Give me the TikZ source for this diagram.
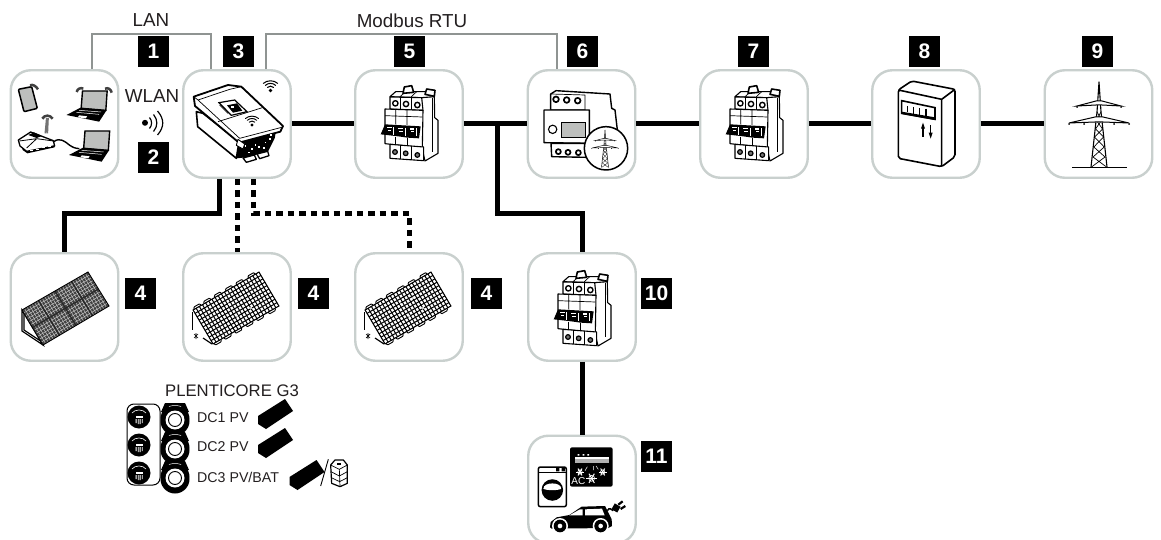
\documentclass[tikz,border=0pt]{standalone}
\usepackage{fontspec}
\setmainfont{Liberation Sans}
\definecolor{boxgray}{HTML}{C9D0CE}
\definecolor{lan}{HTML}{8F9492}
\definecolor{ink}{HTML}{231F20}
\definecolor{scr}{HTML}{BDBFBD}
\tikzset{
  devbox/.style={draw=boxgray,line width=2.4pt,rounded corners=20pt,fill=white,minimum width=107.5pt,minimum height=107.5pt,inner sep=0pt,outer sep=1.2pt},
  badge/.style={fill=black,text=white,font=\fontsize{21}{21}\selectfont\bfseries,minimum size=31pt,inner sep=0pt},
  lbl/.style={text=ink,inner sep=0pt,font=\fontsize{18.8}{18.8}\selectfont},
  dclbl/.style={text=ink,inner sep=0pt,anchor=west,font=\fontsize{14.2}{14.2}\selectfont},
  power/.style={draw=black,line width=5pt},
  powerd/.style={draw=black,line width=5pt,dash pattern=on 6.5pt off 5pt},
  data/.style={draw=lan,line width=2pt},
  zz/.style={x=.33333pt,y=-.33333pt},
  ic/.style={draw=black,line width=1.1pt,line join=round,fill=white},
  thin/.style={draw=black,line width=.7pt,line join=round},
}
\newcommand\wifisym[2]{\begin{scope}[shift={(#1)},scale=#2]
  \fill (0,0) circle[radius=2.6];
  \draw[line width=#2*1.5pt,line cap=round] (-4.5,-4.5) .. controls (-2,-7) and (2,-7) .. (4.5,-4.5);
  \draw[line width=#2*1.5pt,line cap=round] (-7.5,-7.5) .. controls (-3.5,-11.5) and (3.5,-11.5) .. (7.5,-7.5);
  \draw[line width=#2*1.5pt,line cap=round] (-10.5,-10.5) .. controls (-5,-15.5) and (5,-15.5) .. (10.5,-10.5);
\end{scope}}
\newcommand\breakericon[1]{\begin{scope}[shift={(#1)},zz]
  \draw[ic] (140,65)--(178,65)--(179,128)--(189,136)--(189,235)--(150,258)--(140,215)--cycle;
  \draw[thin] (172,70)--(172,230);
  \draw[ic] (45,65)--(62,50)--(165,50)--(178,65)--(140,68)--cycle;
  \draw[thin] (75,65)--(92,50) (108,66)--(125,50);
  \draw[ic,line width=1.6pt] (84,55)--(88,36)--(110,32)--(116,52)--cycle;
  \draw[ic,line width=1.6pt] (150,58)--(155,42)--(180,46)--(178,64)--cycle;
  \draw[ic] (45,66)--(140,68)--(144,106)--(45,102)--cycle;
  \draw[thin] (76,67)--(76,103) (110,67)--(110,104);
  \foreach \p in {(61,85),(93,87),(127,90)}{\draw[ic,line width=1.4pt] \p circle[radius=8];}
  \draw[ic] (30,102)--(144,106)--(142,218)--(30,206)--cycle;
  \draw[thin] (30,122)--(142,126) (62,103)--(62,148) (96,104)--(96,150);
  \draw[thin] (62,185)--(62,208) (96,188)--(96,212);
  \fill[black] (17,178)--(30,148)--(137,154)--(132,190)--(98,188)--(62,183)--cycle;
  \foreach \x/\y in {36/155,70/158,104/160}{
    \fill[white] (\x,\y) rectangle ++(14,5);
    \fill[white] (\x+3,\y+9) rectangle ++(10,3);
    \fill[white] (\x+19,\y) rectangle ++(2,24);}
  \draw[ic] (45,208)--(146,216)--(146,257)--(45,250)--cycle;
  \draw[thin] (76,211)--(76,252) (110,213)--(110,254);
  \foreach \p in {(60,231),(92,235),(127,240)}{\draw[ic,line width=1.2pt,fill=black!55] \p circle[radius=7];}
\end{scope}}
\newcommand\pylon[2]{\begin{scope}[shift={(#1)},scale=#2]
  \draw[line width=#2*1.1pt,line join=round] (-8,85)--(-2,30)--(0,0)--(2,30)--(8,85);
  \draw[line width=#2*.7pt] (-2,30)--(2.8,38)--(-3.5,47)--(4.5,55)--(-5.2,65)--(6,75)--(-7.5,85) (2,30)--(-2.8,38)--(3.5,47)--(-4.5,55)--(5.2,65)--(-6,75)--(7.5,85);
  \draw[line width=#2*1pt,fill=white] (-22,24)--(-3,19)--(3,19)--(22,24)--(3,23)--(-3,23)--cycle;
  \draw[line width=#2*1pt,fill=white] (-30,41)--(-4,35)--(4,35)--(30,41)--(4,40)--(-4,40)--cycle;
  \foreach \x/\y in {-22/25,22/25,-30/42,30/42,-15/42,15/42}{\fill (\x,\y) circle[radius=1];}
\end{scope}}
\newcommand\panelopen[1]{\begin{scope}[shift={(#1)}]
  \begin{scope}
    \clip (0,0)--(66,-38)--(86,-4)--(20,34)--cycle;
    \foreach \i in {0,...,21}{\draw[line width=1pt] ($(0,0)!\i/21!(66,-38)$)--($(20,34)!\i/21!(86,-4)$);}
    \foreach \i in {0,...,10}{\draw[line width=1pt] ($(0,0)!\i/10!(20,34)$)--($(66,-38)!\i/10!(86,-4)$);}
    \fill[white] (36,-6) circle[radius=1.1] (48,-12) circle[radius=1.1] (44,6) circle[radius=1.1] (58,-2) circle[radius=1.1];
  \end{scope}
  \draw[line width=.9pt] (0,0)--(66,-38)--(86,-4)--(20,34)--cycle;
  \foreach \t in {.02,.17,.33,.5,.66,.84}{
    \draw[line width=.9pt,rounded corners=1pt] ($(0,0)!\t!(66,-38)$)--++(-.8,-2)--++(6.5,-3.7)--++(.8,2);
    \draw[line width=.9pt,rounded corners=1pt] ($(20,34)!\t!(86,-4)$)--++(.8,2)--++(6.5,-3.7)--++(-.8,-2);}
  \draw[line width=.9pt] (-1,2)--(-1,20);
  \draw[line width=.7pt] (1,28)--(5,24) (1,24)--(5,28) (3,23)--(3,29);
  \draw[line width=1.2pt] (10,28)--(19,34);
\end{scope}}
\newcommand\panelmini[1]{\begin{scope}[shift={(#1)}]
  \fill[black] (0,-2)--(27,-19)--(35,-7)--(8,11)--(0,6)--cycle;
\end{scope}}
\newcommand\dcleft[1]{\begin{scope}[shift={(#1)}]
  \fill (0,0) circle[radius=11.5];
  \draw[white,line width=.6pt] (-7,-4) .. controls (-4,-8) and (4,-8) .. (7,-4);
  \fill[white] (-3.5,-1) rectangle (3.5,.6);
  \fill[white] (-1.2,2) rectangle (-.3,7) (.6,2) rectangle (1.5,7) (-3.4,2) rectangle (-2.5,6) (2.8,2) rectangle (3.7,6);
\end{scope}}
\newcommand\dcright[1]{\begin{scope}[shift={(#1)}]
  \fill (0,-1) circle[radius=14.5] (0,1) circle[radius=14.5];
  \fill (-10,-17)--(10,-17)--(14,-8)--(-14,-8)--cycle;
  \fill[white] (0,0) circle[radius=9.5];
  \draw[line width=.9pt] (0,0) circle[radius=6.5];
  \draw[white,line width=.5pt] (-6,-13.5) .. controls (-3,-14.8) and (3,-14.8) .. (6,-13.5);
\end{scope}}
\newcommand\laptop[1]{\begin{scope}[shift={(#1)},zz]
  \draw[black,line width=1.4pt,fill=scr] (48,0)--(122,0)--(118,58)--(44,52)--cycle;
  \fill[black] (0,72)--(42,50)--(120,58)--(98,92)--cycle;
  \draw[white,line width=.5pt] (38,58)--(104,63) (30,64)--(98,70);
  \fill[white] (38,73)--(62,76)--(58,82)--(34,79)--cycle;
\end{scope}}
\usetikzlibrary{calc}
\begin{document}
\begin{tikzpicture}[x=1pt,y=-1pt,line cap=butt]
\useasboundingbox (0,0) rectangle (1161,540);
\fill[white] (0,0) rectangle (1161,540);
\node[devbox] (n1) at (64.5,124) {};
\node[devbox] (n3) at (237,124) {};
\node[devbox] (n5) at (409,124) {};
\node[devbox] (n6) at (581.5,124) {};
\node[devbox] (n7) at (754,124) {};
\node[devbox] (n8) at (926,124) {};
\node[devbox] (n9) at (1098.5,124) {};
\node[devbox] (p1) at (64.5,307) {};
\node[devbox] (p2) at (237,307) {};
\node[devbox] (p3) at (409,307) {};
\node[devbox] (n10) at (582,307) {};
\node[devbox] (n11) at (582,489.5) {};
\coordinate (j) at (497,124);
\draw[power] (n3)--(n5);
\draw[power] (n5)--(n6);
\draw[power] (n6)--(n7);
\draw[power] (n7)--(n8);
\draw[power] (n8)--(n9);
\draw[power] (j)--++(0,89)-|(n10.north);
\draw[power] (n10)--(n11);
\draw[power] ([xshift=-18pt]n3.south)--++(0,34.5)-|(p1.north);
\draw[powerd] (n3.south)--(p2.north);
\draw[powerd] ([xshift=16pt]n3.south)--++(0,34.5)-|(p3.north);
\draw[data] ([xshift=27.5pt]n1.north)--++(0,-35.5)-|([xshift=-26pt]n3.north);
\draw[data] ([xshift=29pt]n3.north)--++(0,-35.5)-|([xshift=-24.5pt]n6.north);
\node[lbl] (tlan) at (151,20.5) {LAN};
\node[lbl] (tmod) at (412,20.5) {Modbus RTU};
\node[lbl] (twlan) at (152,96) {WLAN};
\node[badge] (b1) at (153.5,51.5) {1};
\node[badge] (b2) at (153.5,157.5) {2};
\node[badge] (b3) at (238.5,51.5) {3};
\node[badge] (b5) at (409.5,51.5) {5};
\node[badge] (b6) at (582.5,51.5) {6};
\node[badge] (b7) at (753.5,51.5) {7};
\node[badge] (b8) at (924.5,51.5) {8};
\node[badge] (b9) at (1097.5,51.5) {9};
\node[badge] (b4a) at (140.5,293.5) {4};
\node[badge] (b4b) at (313.5,293.5) {4};
\node[badge] (b4c) at (486.5,293.5) {4};
\node[badge] (b10) at (656.5,293.5) {10};
\node[badge] (b11) at (656.5,456.5) {11};
\fill (145,122.8) circle[radius=3];
\draw[line width=1.2pt] (149.5,117.5) .. controls (152.3,121) and (152.3,125) .. (149.5,128.5);
\draw[line width=1.2pt] (153.5,114.5) .. controls (158,120) and (158,126) .. (153.5,131.5);
\draw[line width=1.2pt] (157.5,111) .. controls (164.5,119) and (164.5,127) .. (157.5,135);
\begin{scope}[shift={(10,70)},zz]
  \draw[black,line width=1.5pt,fill=scr,rounded corners=1pt] (25,58)--(65,50)--(82,115)--(42,125)--cycle;
  \draw[black!75,line width=2.5pt] (60,46) .. controls (68,42) and (78,48) .. (84,58);
  \draw[black!75,line width=2.5pt] (200,66) .. controls (202,56) and (212,52) .. (220,56);
  \draw[black!75,line width=2.5pt] (285,56) .. controls (295,52) and (303,58) .. (305,68);
  \draw[black!75,line width=2.5pt] (97,146) .. controls (104,134) and (120,134) .. (128,146);
  \draw[black!55,line width=1.6pt,fill=white] (106,190)--(110,147)--(114,147)--(112,190);
\end{scope}
\laptop{66.5,91}
\laptop{69,131}
\begin{scope}[shift={(10,70)},zz]
  \draw[black,line width=1.4pt] (130,216) .. controls (150,200) and (165,215) .. (178,225) .. controls (188,232) and (195,235) .. (208,236);
  \draw[ic,line width=1.3pt] (25,210)--(62,186)--(130,212)--(134,228)--(50,244)--(30,228)--cycle;
  \fill (55,195)--(72,187)--(96,198)--(80,204)--cycle;
  \draw[black,line width=.8pt] (28,213)--(80,206)--(130,213) (80,206)--(50,234);
  \fill (36,234)--(50,244)--(134,226)--(134,232)--(52,250)--(38,240)--cycle;
  \foreach \x/\y in {60/240,78/236,96/232,114/228}{\fill[white] (\x,\y) rectangle ++(8,3.5);}
\end{scope}
\begin{scope}[shift={(183,70)},zz]
  \fill (165,212)--(280,178)--(275,205)--(255,245)--(190,262)--(160,265)--cycle;
  \draw[ic,line width=1.6pt] (40,125)--(44,170)--(160,265)--(168,215)--(60,130)--cycle;
  \draw[ic,line width=1.8pt] (32,80)--(135,45)--(175,50)--(300,168)--(292,185)--(168,218)--(36,108)--cycle;
  \draw[thin] (32,80)--(45,90)--(140,58)--(175,50) (45,90)--(170,205)--(296,172);
  \draw[thin] (105,155)--(238,113) (135,130)--(110,105);
  \draw[black,line width=1.2pt,fill=white] (108,98)--(155,90)--(192,125)--(145,136)--cycle;
  \fill (132,106)--(162,100)--(178,122)--(150,128)--cycle;
  \fill[white] (143,108) rectangle ++(10,6);
  \draw[ic,line width=1.3pt] (180,264)--(214,255)--(220,268)--(190,277)--cycle;
  \draw[ic,line width=1.3pt] (222,252)--(254,244)--(258,257)--(230,266)--cycle;
  \foreach \x/\y in {185/225,205/235,225/228,245/215,258/205,195/245,215/222,240/232,262/192}{\fill[white] (\x,\y) rectangle ++(5,5);}
  \draw[ic,line width=.9pt] (165,208)--(185,222)--(180,237)--(160,226)--cycle;
\end{scope}
\wifisym{252,125}{.62}
\wifisym{270.5,90.5}{.68}
\breakericon{375,75}
\breakericon{720,75}
\breakericon{548,260}
\begin{scope}[shift={(540,80)},zz]
  \draw[ic,line width=1.4pt] (32,42)--(48,32)--(210,42)--(215,85)--(225,90)--(232,150)--(148,190)--(135,90)--(32,90)--cycle;
  \draw[thin] (135,45)--(135,90) (32,42)--(135,45);
  \foreach \p in {(48,58),(80,60),(113,62)}{\draw[ic,line width=1.7pt] \p circle[radius=8.5];}
  \draw[ic,line width=1.4pt] (12,90)--(148,90)--(148,190)--(12,188)--cycle;
  \draw[black,line width=1.1pt,fill=scr] (65,128) rectangle (136,172);
  \draw[ic,line width=1.1pt] (38,148) circle[radius=12.5];
  \draw[ic,line width=1.4pt] (33,190)--(140,190)--(140,232)--(35,230)--cycle;
  \foreach \p in {(55,215),(84,217),(115,218)}{\draw[ic,line width=1.7pt] \p circle[radius=7.5];}
  \draw[ic,line width=1.5pt] (198,205) circle[radius=65];
\end{scope}
\pylon{605,130}{.44}
\begin{scope}[shift={(680,30)},zz]
  \draw[ic,line width=1.6pt,rounded corners=2pt] (655,180)--(695,153)--(825,178)--(825,380)--(785,410)--(655,385)--cycle;
  \draw[black,line width=1.6pt] (655,180)--(785,208)--(825,178) (785,208)--(785,410);
  \draw[black,line width=1.6pt,fill=white] (665,212)--(765,233)--(765,268)--(665,250)--cycle;
  \fill (665,245)--(765,262)--(765,270)--(665,252)--cycle;
  \draw[black,line width=1.2pt] (683,228)--(683,247) (701,231)--(701,251) (719,234)--(719,255) (738,236)--(738,258);
  \draw[black,line width=1.2pt] (729,320)--(729,290);
  \fill (729,278)--(723,296)--(735,296)--cycle;
  \draw[black,line width=1.2pt] (752,285)--(752,312);
  \fill (752,326)--(746,308)--(758,308)--cycle;
\end{scope}
\pylon{1099,82}{1}
\draw[line width=1.2pt] (1072,167.5)--(1127,167.5);
\begin{scope}[shift={(22,310)}]
  \draw[black,line width=1.2pt,fill=white] (0,0)--(0,21)--(21,35)--cycle;
  \draw[black,line width=1.2pt] (2,3)--(2,20)--(20,32);
  \fill[black!75] (0,0)--(66,-38)--(87,-4)--(21,35)--cycle;
  \begin{scope}
    \clip (0,0)--(66,-38)--(87,-4)--(21,35)--cycle;
    \foreach \i in {0,...,26}{\draw[white!80!black,line width=.45pt] ($(0,0)!\i/26!(66,-38)$)--($(21,35)!\i/26!(87,-4)$);}
    \foreach \i in {0,...,12}{\draw[white!80!black,line width=.45pt] ($(0,0)!\i/12!(21,35)$)--($(66,-38)!\i/12!(87,-4)$);}
    \foreach \i in {1,2,3}{\draw[black!85,line width=1.2pt] ($(0,0)!\i/4!(66,-38)$)--($(21,35)!\i/4!(87,-4)$);}
    \draw[black!85,line width=1.2pt] (10.5,17.5)--(76.5,-21);
  \end{scope}
  \draw[black,line width=.9pt] (0,0)--(66,-38)--(87,-4)--(21,35)--cycle;
\end{scope}
\panelopen{193,310}
\panelopen{365,310}
\node[text=ink,inner sep=0pt,font=\fontsize{16.7}{16.7}\selectfont] (tpl) at (232,391) {PLENTICORE G3};
\draw[black,line width=1pt,rounded corners=7pt] (127,404) rectangle (160,485);
\dcleft{139,417}
\dcleft{139,445}
\dcleft{139,473}
\dcright{175,420}
\dcright{175,449}
\dcright{175,478}
\node[dclbl] (d1) at (197,418) {DC1 PV};
\node[dclbl] (d2) at (197,447) {DC2 PV};
\node[dclbl] (d3) at (197,477) {DC3 PV/BAT};
\panelmini{258,418}
\panelmini{258,447}
\panelmini{289.5,479}
\begin{scope}[shift={(110,370)},zz]
  \draw[line width=.9pt] (632,348)--(655,268);
  \draw[ic,line width=1.2pt] (662,285)--(675,270)--(700,270)--(712,285)--(712,340)--(690,350)--(665,340)--cycle;
  \draw[thin] (662,285)--(688,298)--(712,285) (688,298)--(690,350) (663,305)--(688,318)--(712,305) (664,323)--(689,335)--(712,323);
  \fill (680,280) rectangle ++(14,6);
\end{scope}
\begin{scope}[shift={(530,440)},zz]
  \fill[black,rounded corners=2pt] (120,22) rectangle (248,140);
  \fill[white!70!black] (135,55) rectangle (238,70);
  \fill[white] (135,52) rectangle (238,56);
  \fill[white] (143,42) rectangle ++(5,5) (158,42) rectangle ++(5,5) (172,42) rectangle ++(5,5);
  \draw[white,line width=.5pt] (172,80)--(165,92) (190,78)--(190,90) (198,78)--(205,88);
  \foreach \x/\y/\r in {150/96/12,185/115/16,218/96/12}{
    \foreach \a in {0,60,120}{\draw[white,line width=1pt] ($(\x,\y)+(\a:\r)$)--($(\x,\y)+(\a+180:\r)$);}
    \draw[white,line width=.6pt] (\x,\y) circle[radius=\r*.55];}
  \node[text=white,inner sep=0pt,font=\fontsize{10}{10}\selectfont] (tac) at (145,124) {AC};
  \draw[black,line width=1.5pt,fill=white,rounded corners=2pt] (25,81) rectangle (109,200);
  \draw[black,line width=1pt] (25,97)--(109,97);
  \fill (78,84) rectangle ++(10,10) (95,84) rectangle ++(10,10);
  \fill (67,150) circle[radius=30];
  \fill[white] (39,146) .. controls (50,152) and (84,152) .. (95,146) .. controls (92,125) and (42,125) .. (39,146) -- cycle;
  \draw[black,line width=1.5pt] (67,150) circle[radius=30];
  \fill (60,262)--(62,246)--(80,232)--(118,225)--(155,200)--(225,198)--(245,238)--(246,258)--(235,264)--(65,266)--cycle;
  \fill[white] (118,226)--(150,208)--(158,208)--(158,226)--cycle;
  \fill[white] (165,208)--(216,206)--(224,226)--(165,226)--cycle;
  \foreach \x in {90,212}{
    \fill[white] (\x,258) circle[radius=24];
    \fill (\x,258) circle[radius=19];
    \fill[white] (\x,258) circle[radius=7];}
  \draw[line width=1.5pt] (232,212) .. controls (238,200) and (245,210) .. (250,212);
  \fill[rotate around={-30:(262,205)}] (248,196) rectangle (268,216);
  \draw[line width=2.2pt] (265,194)--(278,184) (272,207)--(286,198);
\end{scope}
\end{tikzpicture}
\end{document}
